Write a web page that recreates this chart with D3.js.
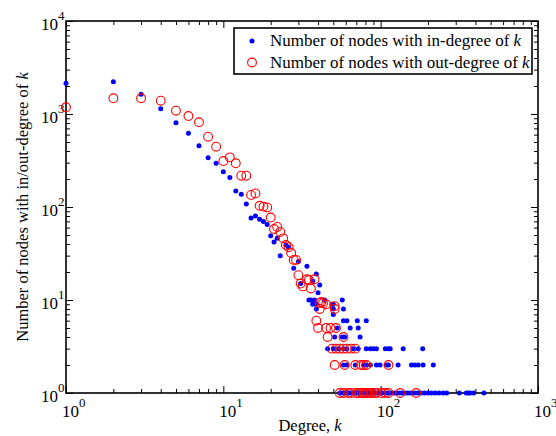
<!DOCTYPE html>
<html><head><meta charset="utf-8">
<script src="https://cdn.jsdelivr.net/npm/d3@7"></script>
<style>
body{margin:0;background:#fff;}
text{font-family:"Liberation Serif","Times New Roman",serif;fill:#000;}
</style></head>
<body><svg id="c" width="556" height="436"></svg>
<script>
// ---- data ----
const inK = [1,2,3,4,5,6,7,8,9,10,11,12,13,14,15,16,17,18,19,20,21,22,23,25,26,28,30,31,34,36,37,38,39,40,41,44,57,35,
  37,39,49,50, 39,50,58, 50, 58,61,71,81, 53,64,72, 51,57,59,74,
  46,50,54,58,61,67,72,81,86,90,94,107,112,115,139,185,
  58,61,69,78,81,86,94,99,109,112,129,157,165,173,186,216,
  55,57,59,61,63,65,67,69,71,73,75,77,80,83,86,89,92,95,98,102,106,110,114,118,122,127,132,137,142,148,154,160,167,174,181,190,200,210,222,235,250,263,316,350,362,370,390,453];
const inCount = [2140,2225,1630,1140,806,620,456,339,295,240,207,149,137,108,76,80,74,70,65,49,42,46,30,39,37,22,26,15,23,10,16,10,19,12,14.5,10,10,10,
  9,9,9,9, 8,8,8, 7, 6,6,6,6, 5,5,5, 4,4,4,4,
  3,3,3,3,3,3,3,3,3,3,3,3,3,3,3,3,
  2,2,2,2,2,2,2,2,2,2,2,2,2,2,2,2,
  1,1,1,1,1,1,1,1,1,1,1,1,1,1,1,1,1,1,1,1,1,1,1,1,1,1,1,1,1,1,1,1,1,1,1,1,1,1,1,1,1,1,1,1,1,1,1,1];
const outK = [1,2,3,4,5,6,7,8,9,10,11,12,13,14,15,16,17,18,19,20,21,22,23,24,25,26,27,28,29,30,31,32,34,35,36,38,
  41,42,43,45,51, 41,51, 39, 40,45,48,52, 46,58,
  49,52,55,58,61,65,69,
  51,59,69,75,78,81,112,
  55,58,62,65,70,73,76,78,81,83,86,88,92,94,101,107,112,133,168];
const outCount = [1180,1475,1475,1390,1085,951,814,570,445,312,342,295,217,217,135,140,103,101,99,77,58,61,54,46,39,37,32,27,27,18.5,15,14,16.7,16.4,13.3,16.7,
  9.3,9.5,9.2,9,8.6, 8,8, 6, 5,5,5,5, 4,4,
  3,3,3,3,3,3,3,
  2,2,2,2,2,2,2,
  1,1,1,1,1,1,1,1,1,1,1,1,1,1,1,1,1,1,1];
const xMajor = [1,10,100,1000];
const yMajor = [1,10,100,1000,10000];
const legendLabels = ["Number of nodes with in-degree of ", "Number of nodes with out-degree of "];
const xTitle = "Degree, ";
const yTitle = "Number of nodes with in/out-degree of ";

// ---- layout ----
const L=66,R=538,T=21,B=393;
const svg=d3.select("#c");
const x=d3.scaleLog().domain([1,1000]).range([L,R]);
const y=d3.scaleLog().domain([1,10000]).range([B,T]);
function minors(lo,hi){const a=[];for(let d=lo;d<hi;d*=10)for(let m=2;m<=9;m++)a.push(d*m);return a;}
const xMinor=minors(1,1000), yMinor=minors(1,10000);

function ax(gen,scale,vals,size,tr){
  const g=svg.append("g").attr("transform",tr).call(gen(scale).tickValues(vals).tickSize(size).tickFormat(""));
  g.select(".domain").remove();
  g.selectAll("line").attr("stroke","#000").attr("stroke-width",1);
}
ax(d3.axisBottom,x,xMajor,-7,`translate(0,${B})`);
ax(d3.axisBottom,x,xMinor,-4,`translate(0,${B})`);
ax(d3.axisTop,x,xMajor,-7,`translate(0,${T})`);
ax(d3.axisTop,x,xMinor,-4,`translate(0,${T})`);
ax(d3.axisLeft,y,yMajor,-7,`translate(${L},0)`);
ax(d3.axisLeft,y,yMinor,-4,`translate(${L},0)`);
ax(d3.axisRight,y,yMajor,-7,`translate(${R},0)`);
ax(d3.axisRight,y,yMinor,-4,`translate(${R},0)`);

svg.append("rect").attr("x",L).attr("y",T).attr("width",R-L).attr("height",B-T)
  .attr("fill","none").attr("stroke","#000").attr("stroke-width",1.6);

// tick labels
xMajor.forEach(v=>{
  const t=svg.append("text").attr("x",x(v)-4).attr("y",416.5).attr("font-size",17);
  t.append("tspan").text("10");
  t.append("tspan").attr("font-size",13).attr("dy",-9.5).text(Math.round(Math.log10(v)));
});
yMajor.forEach(v=>{
  const t=svg.append("text").attr("x",41).attr("y",y(v)+8.5).attr("font-size",17);
  t.append("tspan").text("10");
  t.append("tspan").attr("font-size",13).attr("dy",-9.5).text(Math.round(Math.log10(v)));
});

// titles
const xt=svg.append("text").attr("x",310).attr("y",431).attr("text-anchor","middle").attr("font-size",16.5);
xt.append("tspan").text(xTitle); xt.append("tspan").attr("font-style","italic").text("k");
const yt=svg.append("text").attr("transform","translate(28,207) rotate(-90)").attr("text-anchor","middle").attr("font-size",16.5);
yt.append("tspan").text(yTitle); yt.append("tspan").attr("font-style","italic").text("k");

// data
const inData=inK.map((k,i)=>({k,c:inCount[i]}));
const outData=outK.map((k,i)=>({k,c:outCount[i]}));
svg.append("g").selectAll("circle").data(inData).join("circle")
  .attr("cx",d=>x(d.k)).attr("cy",d=>y(d.c)).attr("r",2.5).attr("fill","#0000ff");
svg.append("g").selectAll("circle").data(outData).join("circle")
  .attr("cx",d=>x(d.k)).attr("cy",d=>y(d.c)).attr("r",4.4).attr("fill","none").attr("stroke","#ff0000").attr("stroke-width",1.1);

// legend
const lg=svg.append("g");
lg.append("rect").attr("x",234).attr("y",28).attr("width",298).attr("height",46).attr("fill","#fff").attr("stroke","#000").attr("stroke-width",1.6);
lg.append("circle").attr("cx",252).attr("cy",41).attr("r",2.5).attr("fill","#0000ff");
lg.append("circle").attr("cx",252).attr("cy",62.5).attr("r",4.4).attr("fill","none").attr("stroke","#ff0000").attr("stroke-width",1.1);
legendLabels.forEach((s,i)=>{
  const t=lg.append("text").attr("x",270).attr("y",46+i*22).attr("font-size",17);
  t.append("tspan").text(s); t.append("tspan").attr("font-style","italic").text("k");
});
</script></body></html>
